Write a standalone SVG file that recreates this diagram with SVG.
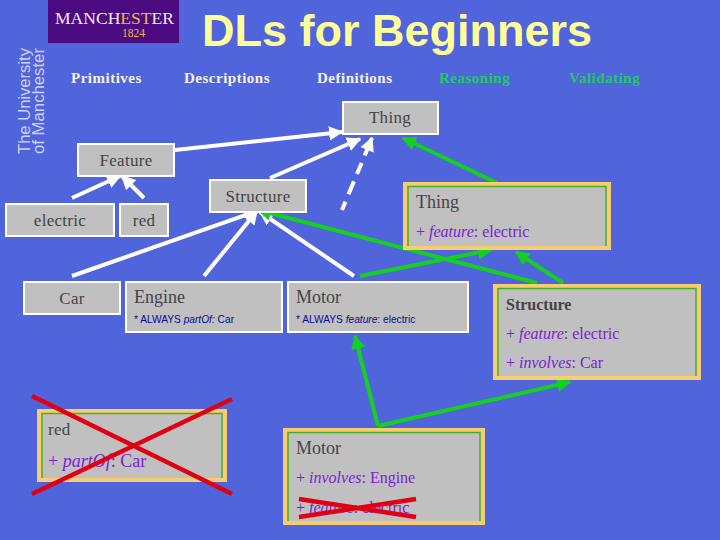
<svg xmlns="http://www.w3.org/2000/svg" width="720" height="540" viewBox="0 0 720 540">
<style>
text{font-family:"Liberation Serif","Times New Roman",serif}
.sans{font-family:"Liberation Sans",Arial,sans-serif}
.hd{font-size:15px;font-weight:bold;fill:#f2f2f2;letter-spacing:.5px}
.hg{fill:#22c86a}
.box{fill:#c0c0c0;stroke:#fff;stroke-width:2}
.lb{font-size:17px;fill:#444;letter-spacing:.3px}
.big{font-size:18px;fill:#444}
.mid{text-anchor:middle}
.or{fill:#c0c0c0;stroke:#f8cc70;stroke-width:4}
.gr{fill:none;stroke:#48b020;stroke-width:1.500}
.pu{font-size:16px;fill:#7a22d0}
.ax{font-family:"Liberation Sans",Arial,sans-serif;font-size:10.200px;fill:#0a0a90}
.w{fill:none;stroke:#fff;stroke-width:4;marker-end:url(#wa)}
.g{fill:none;stroke:#14d020;stroke-width:4;marker-end:url(#ga)}
.x{stroke:#e00014;stroke-width:4.500}
</style>
<defs>
<marker id="wa" viewBox="0 0 10 10" refX="9" refY="5" markerWidth="3.6" markerHeight="3.6" orient="auto"><path d="M0 0L10 5L0 10z" fill="#fff"/></marker>
<marker id="ga" viewBox="0 0 10 10" refX="9" refY="5" markerWidth="3.6" markerHeight="3.6" orient="auto"><path d="M0 0L10 5L0 10z" fill="#14d020"/></marker>
</defs>
<rect width="720" height="540" fill="#5064dc"/>
<g id="logo">
<rect x="48" y="0" width="131" height="43" fill="#4b0a80"/>
<text x="55" y="24" font-size="17" fill="#f4eaf4" textLength="119" lengthAdjust="spacingAndGlyphs">MANCH<tspan fill="#f0b840">EST</tspan>ER</text>
<text x="122" y="37" font-size="11.500" fill="#f0b840">1824</text>
<text class="sans" transform="translate(30 154) rotate(-90)" font-size="17" fill="#cdd3f2" textLength="106" lengthAdjust="spacingAndGlyphs">The University</text>
<text class="sans" transform="translate(44 154) rotate(-90)" font-size="17" fill="#cdd3f2" textLength="106" lengthAdjust="spacingAndGlyphs">of Manchester</text>
</g>
<text id="title" class="sans" x="397" y="46" text-anchor="middle" font-size="45" font-weight="bold" fill="#ffff99">DLs for Beginners</text>
<g id="headers">
<text class="hd" x="71" y="83">Primitives</text>
<text class="hd" x="184" y="83">Descriptions</text>
<text class="hd" x="317" y="83">Definitions</text>
<text class="hd hg" x="439" y="83">Reasoning</text>
<text class="hd hg" x="569" y="83">Validating</text>
</g>
<g id="connectors">
<path class="w" d="M175 150L342 132"/>
<path class="w" d="M270 178L360 139"/>
<path class="w" d="M342 210L372 138" stroke-dasharray="9 8 14 8 12 8 40"/>
<path class="w" d="M72 198L120 176"/>
<path class="w" d="M144 198L122 176"/>
<path class="w" d="M72 276L257 211"/>
<path class="w" d="M204 276L257 211"/>
<path class="w" d="M354 276L260 212"/>
<path class="g" d="M497 183L403 138"/>
<path class="g" d="M537 283L258 210"/>
<path class="g" d="M360 276L491 250"/>
<path class="g" d="M563 283L516 252"/>
<path class="g" d="M378 426L355 336"/>
<path class="g" d="M378 426L570 382"/>
</g>
<g id="thing"><rect class="box" x="343" y="102" width="95" height="32"/><text class="lb mid" x="390" y="123">Thing</text></g>
<g id="feature"><rect class="box" x="78" y="144" width="96" height="32"/><text class="lb mid" x="126" y="166">Feature</text></g>
<g id="structure"><rect class="box" x="210" y="180" width="96" height="32"/><text class="lb mid" x="258" y="202">Structure</text></g>
<g id="electric"><rect class="box" x="6" y="204" width="108" height="32"/><text class="lb mid" x="60" y="226">electric</text></g>
<g id="red"><rect class="box" x="120" y="204" width="48" height="32"/><text class="lb mid" x="144" y="226">red</text></g>
<g id="car"><rect class="box" x="24" y="282" width="96" height="32"/><text class="lb mid" x="72" y="304">Car</text></g>
<g id="engine"><rect class="box" x="126" y="282" width="156" height="50"/><text class="big" x="134" y="303">Engine</text><text class="ax" x="134" y="323">* ALWAYS <tspan font-style="italic">partOf:</tspan> Car</text></g>
<g id="motor"><rect class="box" x="288" y="282" width="180" height="50"/><text class="big" x="296" y="303">Motor</text><text class="ax" x="296" y="323">* ALWAYS <tspan font-style="italic">feature</tspan>: electric</text></g>
<g id="thing-def"><rect class="or" x="405" y="184" width="204" height="64"/><path class="gr" d="M408 246V186.500H606V246"/><text class="big" x="416" y="208">Thing</text><text class="pu" x="416" y="237">+ <tspan font-style="italic">feature</tspan>: electric</text></g>
<g id="structure-def"><rect class="or" x="495" y="286" width="204" height="92"/><path class="gr" d="M498 376V288.500H696V376"/><text class="lb" x="506" y="310" font-weight="bold" style="font-size:16px;letter-spacing:0">Structure</text><text class="pu" x="506" y="339">+ <tspan font-style="italic">feature</tspan>: electric</text><text class="pu" x="506" y="368">+ <tspan font-style="italic">involves</tspan>: Car</text></g>
<g id="red-def"><rect class="or" x="39" y="411" width="186" height="69"/><path class="gr" d="M42 478V413.500H222V478"/><text class="lb" x="48" y="435">red</text><text class="pu" x="48" y="467" style="font-size:18px">+ <tspan font-style="italic">partOf</tspan>: Car</text></g>
<g id="motor-def"><rect class="or" x="285" y="430" width="198" height="93"/><path class="gr" d="M288 521V432.500H480V521"/><text class="big" x="296" y="454">Motor</text><text class="pu" x="296" y="483">+ <tspan font-style="italic">involves</tspan>: Engine</text><text class="pu" x="296" y="513">+ <tspan font-style="italic">feature</tspan>: electric</text></g>
<g id="crosses">
<path class="x" d="M32 396L232 494M32 494L232 399"/>
<path class="x" d="M299 499L416 517M299 517L416 499"/>
</g>
</svg>
